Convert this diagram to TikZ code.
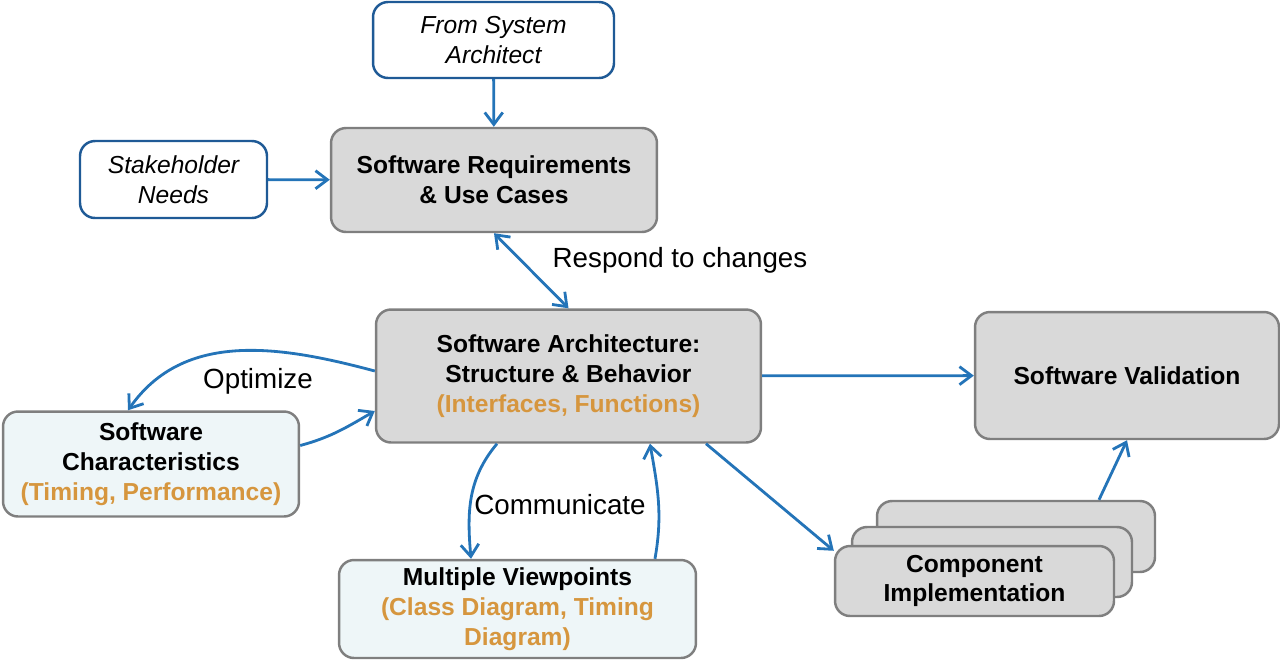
\documentclass[tikz,border=0pt]{standalone}
\usepackage{fontspec}
\setmainfont{Liberation Sans}
\usetikzlibrary{arrows.meta}
\usetikzlibrary{positioning}

\definecolor{arrowblue}{HTML}{2474B8}
\definecolor{boxblue}{HTML}{1F5A96}
\definecolor{boxgray}{HTML}{D9D9D9}
\definecolor{linegray}{HTML}{7F7F7F}
\definecolor{paleblue}{HTML}{EEF6F8}
\definecolor{noteorange}{HTML}{D6963E}

\tikzset{
  inbox/.style={draw=boxblue, line width=1.4pt, fill=white, rounded corners=0.3cm,
    align=center, font=\fontsize{14}{17}\selectfont\itshape},
  graybox/.style={draw=linegray, line width=1.4pt, fill=boxgray, rounded corners=0.3cm,
    align=center, font=\fontsize{14}{17}\selectfont\bfseries},
  palebox/.style={graybox, fill=paleblue},
  flow/.style={draw=arrowblue, line width=1.6pt},
  note/.style={font=\fontsize{15.8}{18}\selectfont},
}

\begin{document}
\begin{tikzpicture}[x=0.02cm,y=-0.02cm,>={Straight Barb[length=2.4mm,width=3.6mm]}]
    \useasboundingbox (0,0) rectangle (1280,660);

    \node[inbox, minimum width=4.82cm, minimum height=1.52cm] (sysarch) at (493.5,40) {From System\\Architect};
    \node[inbox, minimum width=3.74cm, minimum height=1.54cm] (stakeholder) at (173.5,179.5) {Stakeholder\\Needs};
    \node[graybox, minimum width=6.52cm, minimum height=2.08cm] (reqs) at (494,180) {Software Requirements\\\& Use Cases};
    \node[graybox, minimum width=7.7cm, minimum height=2.66cm] (archi) at (568.5,376) {Software Architecture:\\Structure \& Behavior\\\textcolor{noteorange}{(Interfaces, Functions)}};
    \node[graybox, minimum width=6.08cm, minimum height=2.54cm] (validation) at (1127,375.5) {Software Validation};
    \node[palebox, minimum width=5.92cm, minimum height=2.1cm] (characteristics) at (151,464) {Software\\Characteristics\\\textcolor{noteorange}{(Timing, Performance)}};
    \node[palebox, minimum width=7.14cm, minimum height=1.96cm] (viewpoints) at (517.5,609) {Multiple Viewpoints\\\textcolor{noteorange}{(Class Diagram, Timing}\\\textcolor{noteorange}{Diagram)}};

    % stacked components, back to front
    \node[graybox, minimum width=5.56cm, minimum height=1.42cm] (compc) at (1016,536.5) {};
    \node[graybox, minimum width=5.6cm, minimum height=1.4cm] (compb) at (992,562) {};
    \node[graybox, minimum width=5.58cm, minimum height=1.4cm] (compa) at (974.5,581) {Component\\Implementation};

    \node[note] (respond) at (680,260) {Respond to changes};
    \node[note] (optimize) at (258,381) {Optimize};
    \node[note] (communicate) at (560,505) {Communicate};

    \draw[flow,->] (sysarch) -- (reqs);
    \draw[flow,->] (stakeholder) -- (reqs);
    \draw[flow,<->] (reqs.south) -- (archi.north);
    \draw[flow,->] ([yshift=0.1cm]archi.west) to[out=165,in=55] ([xshift=-0.46cm]characteristics.north);
    \draw[flow,->] ([yshift=0.37cm]characteristics.east) to[out=15,in=210] ([yshift=-0.7cm]archi.west);
    \draw[flow,->] ([xshift=-1.43cm]archi.south) to[out=-130,in=95] ([xshift=-0.93cm]viewpoints.north);
    \draw[flow,->] ([xshift=2.75cm]viewpoints.north) to[out=80,in=-80] ([xshift=1.63cm]archi.south);
    \draw[flow,->] (archi) -- (validation);
    \draw[flow,->] ([xshift=2.75cm]archi.south) -- ([yshift=-0.12cm]compa.north west);
    \draw[flow,->] ([xshift=1.66cm]compc.north) -- (validation.south);
\end{tikzpicture}
\end{document}
